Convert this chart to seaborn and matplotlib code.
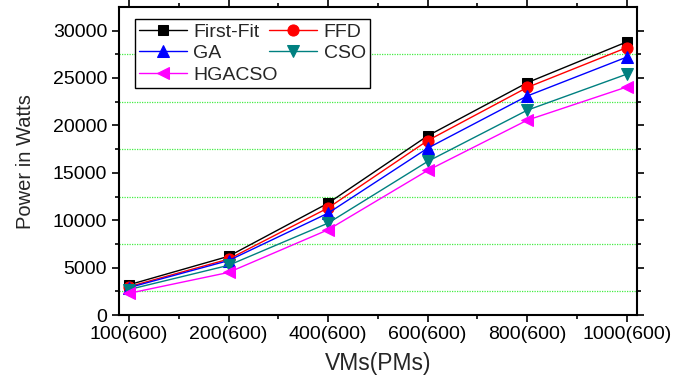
import matplotlib
matplotlib.use("Agg")
import matplotlib.pyplot as plt
import seaborn as sns
import pandas as pd
import numpy as np
from matplotlib.ticker import MultipleLocator

categories = ["100(600)", "200(600)", "400(600)", "600(600)", "800(600)", "1000(600)"]
first_fit = [3200, 6200, 11800, 18900, 24500, 28800]
ffd = [3000, 5900, 11300, 18400, 24000, 28200]
ga = [2900, 5750, 10750, 17600, 23100, 27200]
cso = [2700, 5250, 9700, 16200, 21600, 25400]
hgacso = [2300, 4500, 9000, 15250, 20550, 24050]

series = [
    ("First-Fit", first_fit, "black", "s", 7),
    ("FFD", ffd, "red", "o", 8),
    ("GA", ga, "blue", "^", 8),
    ("CSO", cso, "#008080", "v", 8),
    ("HGACSO", hgacso, "#FF00FF", "<", 8),
]

sns.set_style("ticks")
plt.rcParams['font.family'] = ['Liberation Sans', 'DejaVu Sans']

fig = plt.figure(figsize=(6.76, 3.82), dpi=100)
ax = fig.add_axes([0.176, 0.175, 0.766, 0.806])

pos = np.arange(len(categories))
for name, vals, col, mk, ms in series:
    df = pd.DataFrame({"x": pos, "y": vals})
    sns.lineplot(data=df, x="x", y="y", ax=ax, color=col, marker=mk,
                 markersize=ms, markeredgecolor=col, linewidth=1.0, label=name)

ax.set_xlim(-0.1, 5.1)
ax.set_ylim(0, 32450)
ax.set_xticks(pos)
ax.set_xticklabels(categories)
ax.xaxis.set_minor_locator(MultipleLocator(0.5))
ax.yaxis.set_major_locator(MultipleLocator(5000))
ax.yaxis.set_minor_locator(MultipleLocator(2500))

ax.grid(False)
ax.yaxis.grid(True, which="minor", color="#44ee44", linestyle=(0, (1, 1)), linewidth=0.9)
ax.yaxis.grid(False, which="major")

for sp in ax.spines.values():
    sp.set_visible(True)
    sp.set_linewidth(1.5)
    sp.set_color("black")

ax.tick_params(which="both", direction="out", top=True, right=True,
               labelsize=14, colors="black", width=1.2)
ax.tick_params(which="major", length=5)
ax.tick_params(which="minor", length=3)
ax.tick_params(axis="x", which="major", pad=3)

ax.set_xlabel("VMs(PMs)", fontsize=16.5, labelpad=6)
ax.set_ylabel("Power in Watts", fontsize=14.5, labelpad=13)

h, l = ax.get_legend_handles_labels()
d = dict(zip(l, h))
order = ["First-Fit", "GA", "HGACSO", "FFD", "CSO"]
leg = ax.legend([d[o] for o in order], order, loc="upper left", ncol=2,
                fontsize=14, frameon=True, fancybox=False, edgecolor="black",
                framealpha=1, borderpad=0.2, labelspacing=0.2,
                handlelength=2.45, handletextpad=0.35, columnspacing=-0.45,
                borderaxespad=0, bbox_to_anchor=(0.031, 0.961))
leg.get_frame().set_linewidth(1.0)

fig.savefig("out.png", dpi=100)
